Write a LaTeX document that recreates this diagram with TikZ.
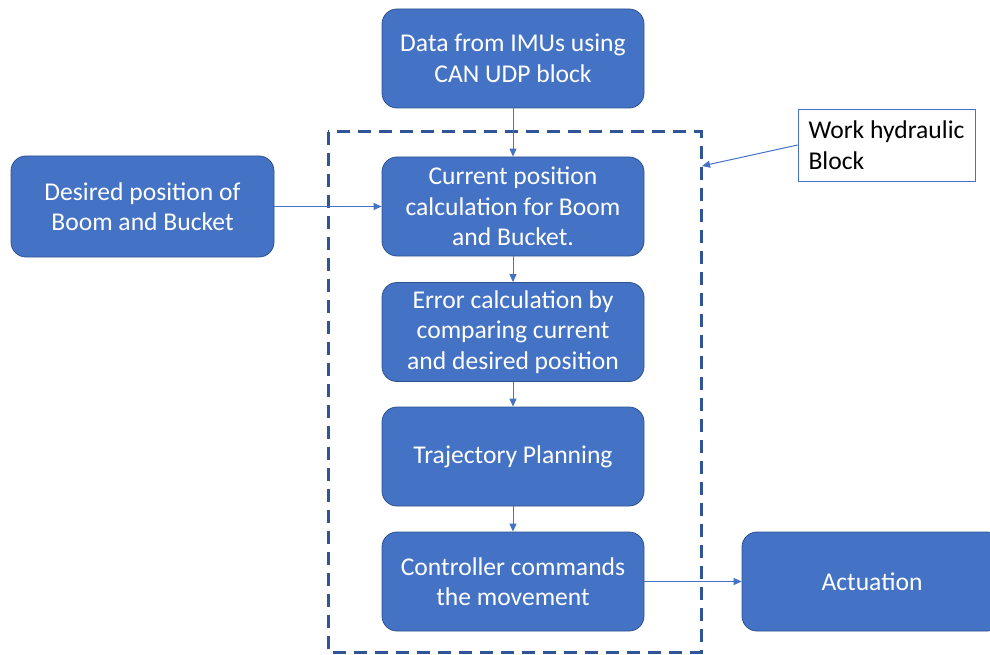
\documentclass[tikz,border=0pt]{standalone}
\usepackage{fontspec}
\setmainfont{Carlito}
\usetikzlibrary{arrows.meta}
\definecolor{boxblue}{HTML}{4472C4}
\definecolor{boxedge}{HTML}{2F528F}
\definecolor{framec}{HTML}{2F5597}
\tikzset{
  stepbox/.style={rectangle, rounded corners=15pt, fill=boxblue, draw=boxedge, line width=0.8pt,
    text=white, align=center, minimum width=262pt, minimum height=99pt,
    font=\fontsize{25.6}{30.5}\selectfont, inner sep=0pt},
  link/.style={draw=boxblue, line width=1pt, -{Triangle[length=8pt,width=7pt]}},
}
\begin{document}
\begin{tikzpicture}[x=1pt,y=-1pt]
\useasboundingbox (0,0) rectangle (990,655);
\clip (0,0) rectangle (990,655);

% dashed frame of the work hydraulic block
\draw[framec, line width=3pt, dash pattern=on 13pt off 8pt] (328,132) rectangle (701,652);
\coordinate (hit) at (702,166);

% main chain
\node[stepbox] (imu)  at (513,58.5)  {Data from IMUs using\\CAN UDP block};
\node[stepbox] (cur)  at (513,206.5) {Current position\\calculation for Boom\\and Bucket.};
\node[stepbox] (err)  at (513,332)   {Error calculation by\\comparing current\\and desired position};
\node[stepbox] (traj) at (513,456.5) {Trajectory Planning};
\node[stepbox] (ctrl) at (513,581.5) {Controller commands\\the movement};

% side boxes
\node[stepbox, minimum width=263pt, minimum height=101pt] (des) at (142.5,206.5) {Desired position of\\Boom and Bucket};
\node[stepbox, minimum width=260pt] (act) at (872,581.5) {Actuation};

% label box
\node[rectangle, draw=boxblue, line width=0.8pt, fill=white, minimum width=177pt, minimum height=72pt,
      align=left, font=\fontsize{25.6}{30.5}\selectfont, inner sep=0pt]
      (hyd) at (886.5,145) {Work hydraulic\\Block};

% connectors
\draw[link] (imu) -- (cur);
\draw[link] (cur) -- (err);
\draw[link] (err) -- (traj);
\draw[link] (traj) -- (ctrl);
\draw[link] (des) -- (cur);
\draw[link] (ctrl) -- (act);
\draw[link] (hyd.west) -- (hit);
\end{tikzpicture}
\end{document}
